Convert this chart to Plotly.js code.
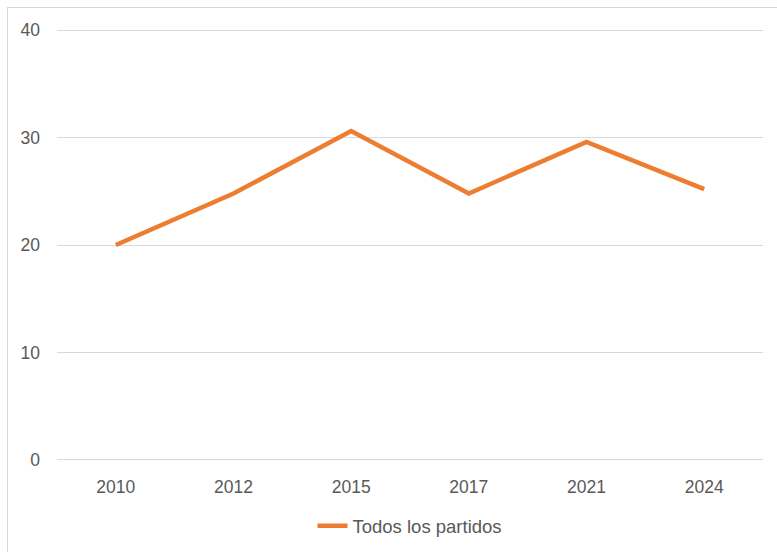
<!DOCTYPE html>
<html>
<head>
<meta charset="utf-8">
<script src="https://cdn.plot.ly/plotly-3.0.1.min.js"></script>
<style>
  html, body { margin: 0; padding: 0; background: #fff; overflow: hidden; }
  #frame { position: absolute; left: 7px; top: 7px; width: 900px; height: 700px; border: 1px solid #d9d9d9; box-sizing: border-box; }
  #chart { position: absolute; left: 0; top: 0; width: 777px; height: 552px; }
</style>
</head>
<body>
<div id="frame"></div>
<div id="chart"></div>
<script>
const years = ["2010", "2012", "2015", "2017", "2021", "2024"];
const todosLosPartidos = [20.0, 24.8, 30.6, 24.8, 29.6, 25.2];
const seriesName = "Todos los partidos";
const yTicks = [0, 10, 20, 30, 40];

const trace = {
  x: years,
  y: todosLosPartidos,
  type: "scatter",
  mode: "lines",
  name: seriesName,
  line: { color: "#ED7D31", width: 4.5 }
};

const fontFamily = "Liberation Sans, Arial, sans-serif";

const layout = {
  width: 777,
  height: 552,
  margin: { l: 57, r: 14, t: 28, b: 90, autoexpand: false },
  paper_bgcolor: "rgba(0,0,0,0)",
  plot_bgcolor: "rgba(0,0,0,0)",
  font: { family: fontFamily, size: 17.5, color: "#595959" },
  showlegend: true,
  legend: {
    orientation: "h",
    x: 0.5, xanchor: "center",
    y: -0.148, yanchor: "middle",
    font: { family: fontFamily, size: 18.5, color: "#595959" }
  },
  xaxis: {
    type: "category",
    range: [-0.5, 5.5],
    showgrid: false,
    zeroline: false,
    showline: false,
    automargin: false,
    ticks: "",
    ticklabelstandoff: 12,
    tickfont: { family: fontFamily, size: 17.5, color: "#595959" }
  },
  yaxis: {
    range: [-0.2, 40.2],
    tickvals: yTicks,
    showgrid: true,
    gridcolor: "#d9d9d9",
    gridwidth: 1,
    zeroline: false,
    showline: false,
    automargin: false,
    ticks: "",
    ticklabelstandoff: 16,
    tickfont: { family: fontFamily, size: 17.5, color: "#595959" }
  }
};

Plotly.newPlot("chart", [trace], layout, { displayModeBar: false, staticPlot: true });
</script>
</body>
</html>
